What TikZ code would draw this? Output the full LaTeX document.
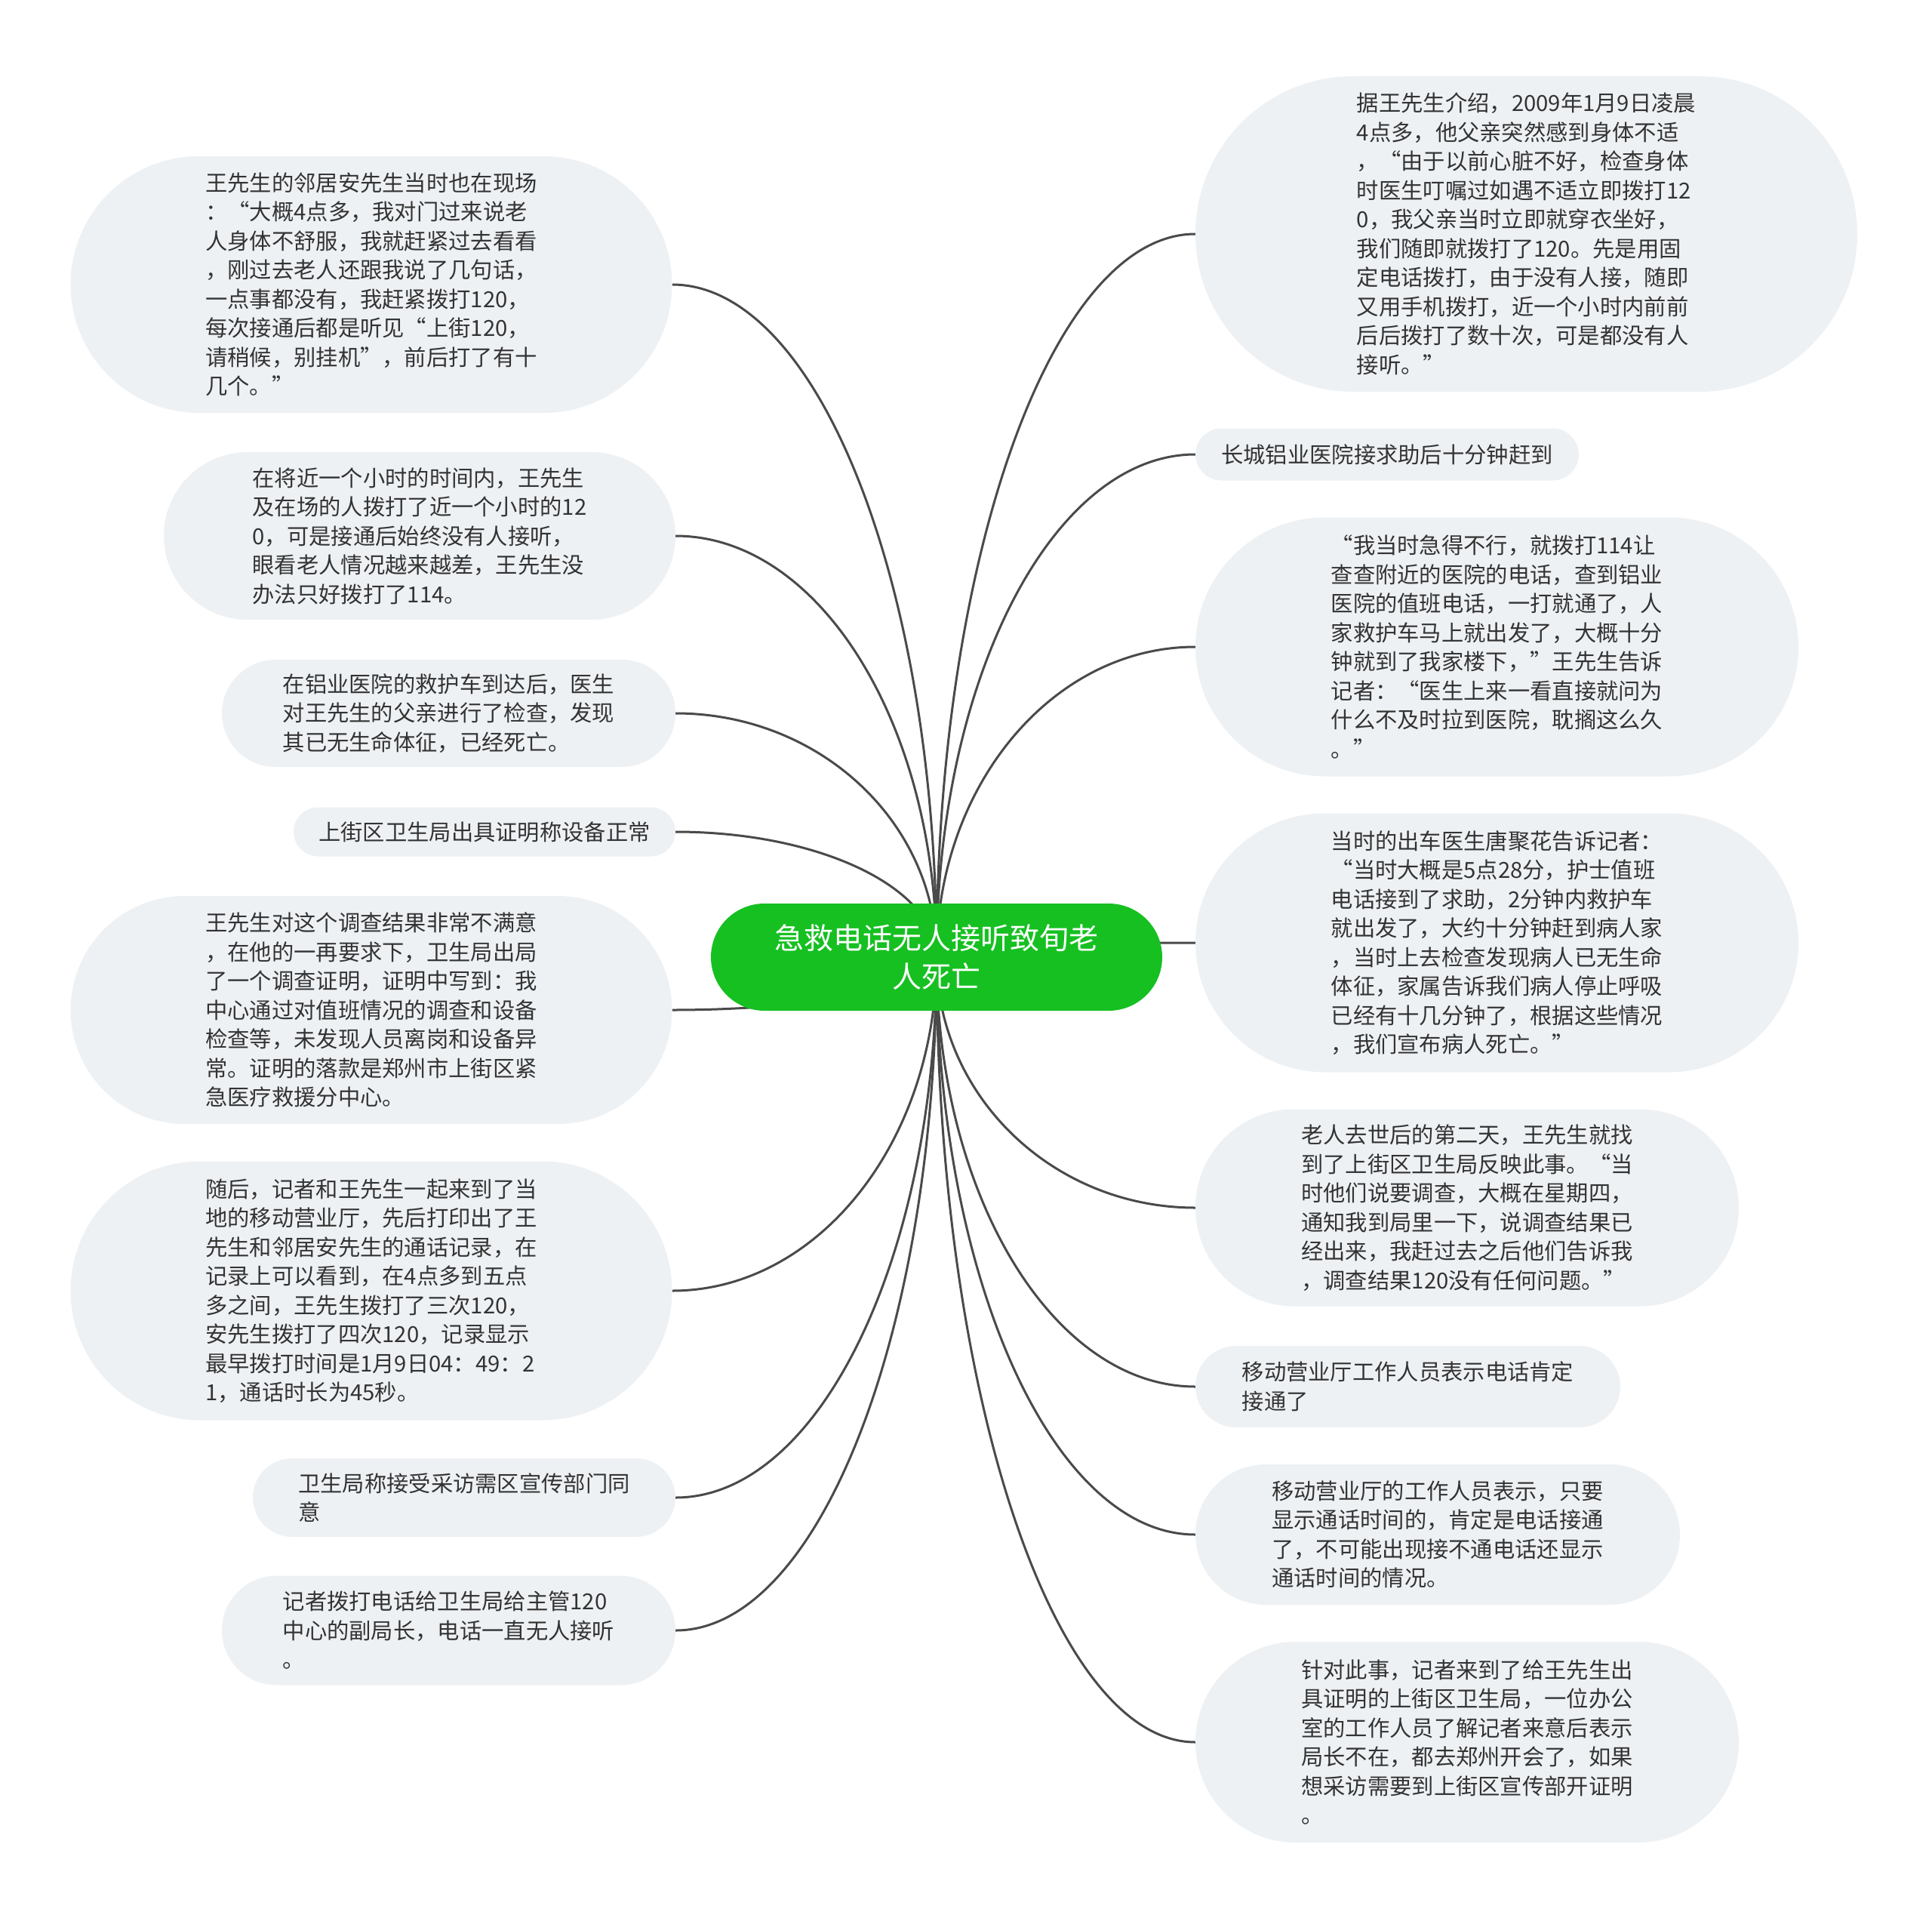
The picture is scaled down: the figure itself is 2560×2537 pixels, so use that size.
\documentclass[tikz,border=0pt]{standalone}
\usepackage{fontspec}
\setmainfont{Noto Sans CJK SC}
\usetikzlibrary{shapes.misc, backgrounds, calc}
\definecolor{leafbg}{HTML}{EEF1F4}
\definecolor{rootgreen}{HTML}{16C021}
\definecolor{linkgray}{HTML}{4A4A4A}
\definecolor{txtgray}{HTML}{333333}

\begin{document}
\begin{tikzpicture}[x=1pt, y=-1pt, line join=round, line cap=round,
  leaf/.style={rounded rectangle, fill=leafbg, text=txtgray, inner sep=0pt, align=left,
    font=\fontsize{29.3pt}{38.5pt}\selectfont},
  root/.style={rounded rectangle, fill=rootgreen, text=white, inner sep=0pt, align=center,
    font=\fontsize{39pt}{51pt}\selectfont},
  link/.style={draw=linkgray, line width=3pt,
    to path={.. controls ($(\tikztostart)!0.552!(\tikztostart |- \tikztotarget)$)
      and ($(\tikztotarget)!0.552!(\tikztostart |- \tikztotarget)$) .. (\tikztotarget)}}]
\useasboundingbox (0,0) rectangle (2560,2537);
\node[root, minimum width=598pt, minimum height=142pt] (title) at (1241,1268) {急救电话无人接听致旬老\\人死亡};
\node[leaf, minimum width=797pt, minimum height=340pt] (L1) at (492,377) {王先生的邻居安先生当时也在现场\\：“大概4点多，我对门过来说老\\人身体不舒服，我就赶紧过去看看\\，刚过去老人还跟我说了几句话，\\一点事都没有，我赶紧拨打120，\\每次接通后都是听见“上街120，\\请稍候，别挂机”，前后打了有十\\几个。”};
\node[leaf, minimum width=678pt, minimum height=222pt] (L2) at (556,710) {在将近一个小时的时间内，王先生\\及在场的人拨打了近一个小时的12\\0，可是接通后始终没有人接听，\\眼看老人情况越来越差，王先生没\\办法只好拨打了114。};
\node[leaf, minimum width=601pt, minimum height=142pt] (L3) at (594.5,945) {在铝业医院的救护车到达后，医生\\对王先生的父亲进行了检查，发现\\其已无生命体征，已经死亡。};
\node[leaf, minimum width=506pt, minimum height=65pt] (L4) at (642,1102) {上街区卫生局出具证明称设备正常};
\node[leaf, minimum width=797pt, minimum height=302pt] (L5) at (492,1338) {王先生对这个调查结果非常不满意\\，在他的一再要求下，卫生局出局\\了一个调查证明，证明中写到：我\\中心通过对值班情况的调查和设备\\检查等，未发现人员离岗和设备异\\常。证明的落款是郑州市上街区紧\\急医疗救援分中心。};
\node[leaf, minimum width=797pt, minimum height=343pt] (L6) at (492,1710) {随后，记者和王先生一起来到了当\\地的移动营业厅，先后打印出了王\\先生和邻居安先生的通话记录，在\\记录上可以看到，在4点多到五点\\多之间，王先生拨打了三次120，\\安先生拨打了四次120，记录显示\\最早拨打时间是1月9日04：49：2\\1，通话时长为45秒。};
\node[leaf, minimum width=560pt, minimum height=104pt] (L7) at (615,1984) {卫生局称接受采访需区宣传部门同\\意};
\node[leaf, minimum width=601pt, minimum height=145pt] (L8) at (594.5,2160) {记者拨打电话给卫生局给主管120\\中心的副局长，电话一直无人接听\\。};
\node[leaf, minimum width=877pt, minimum height=418pt] (R1) at (2022.5,310) {据王先生介绍，2009年1月9日凌晨\\4点多，他父亲突然感到身体不适\\，“由于以前心脏不好，检查身体\\时医生叮嘱过如遇不适立即拨打12\\0，我父亲当时立即就穿衣坐好，\\我们随即就拨打了120。先是用固\\定电话拨打，由于没有人接，随即\\又用手机拨打，近一个小时内前前\\后后拨打了数十次，可是都没有人\\接听。”};
\node[leaf, minimum width=508pt, minimum height=69pt] (R2) at (1838,602) {长城铝业医院接求助后十分钟赶到};
\node[leaf, minimum width=799pt, minimum height=343pt] (R3) at (1983.5,857) {“我当时急得不行，就拨打114让\\查查附近的医院的电话，查到铝业\\医院的值班电话，一打就通了，人\\家救护车马上就出发了，大概十分\\钟就到了我家楼下，”王先生告诉\\记者：“医生上来一看直接就问为\\什么不及时拉到医院，耽搁这么久\\。”};
\node[leaf, minimum width=799pt, minimum height=343pt] (R4) at (1983.5,1249) {当时的出车医生唐聚花告诉记者：\\“当时大概是5点28分，护士值班\\电话接到了求助，2分钟内救护车\\就出发了，大约十分钟赶到病人家\\，当时上去检查发现病人已无生命\\体征，家属告诉我们病人停止呼吸\\已经有十几分钟了，根据这些情况\\，我们宣布病人死亡。”};
\node[leaf, minimum width=720pt, minimum height=261pt] (R5) at (1944,1600) {老人去世后的第二天，王先生就找\\到了上街区卫生局反映此事。“当\\时他们说要调查，大概在星期四，\\通知我到局里一下，说调查结果已\\经出来，我赶过去之后他们告诉我\\，调查结果120没有任何问题。”};
\node[leaf, minimum width=563pt, minimum height=108pt] (R6) at (1865.5,1837) {移动营业厅工作人员表示电话肯定\\接通了};
\node[leaf, minimum width=642pt, minimum height=186pt] (R7) at (1905,2033) {移动营业厅的工作人员表示，只要\\显示通话时间的，肯定是电话接通\\了，不可能出现接不通电话还显示\\通话时间的情况。};
\node[leaf, minimum width=720pt, minimum height=266pt] (R8) at (1944,2308) {针对此事，记者来到了给王先生出\\具证明的上街区卫生局，一位办公\\室的工作人员了解记者来意后表示\\局长不在，都去郑州开会了，如果\\想采访需要到上街区宣传部开证明\\。};
\begin{scope}[on background layer]
\draw[link] (title.center) to (L1.east);
\draw[link] (title.center) to (L2.east);
\draw[link] (title.center) to (L3.east);
\draw[link] (title.center) to (L4.east);
\draw[link] (title.center) to (L5.east);
\draw[link] (title.center) to (L6.east);
\draw[link] (title.center) to (L7.east);
\draw[link] (title.center) to (L8.east);
\draw[link] (title.center) to (R1.west);
\draw[link] (title.center) to (R2.west);
\draw[link] (title.center) to (R3.west);
\draw[link] (title.center) to (R4.west);
\draw[link] (title.center) to (R5.west);
\draw[link] (title.center) to (R6.west);
\draw[link] (title.center) to (R7.west);
\draw[link] (title.center) to (R8.west);
\end{scope}
\end{tikzpicture}
\end{document}
